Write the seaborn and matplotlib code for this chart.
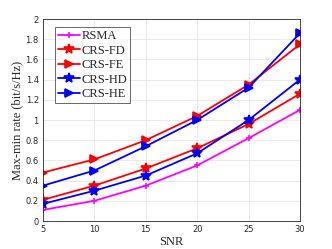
import numpy as np
import pandas as pd
import seaborn as sns
import matplotlib
matplotlib.use("Agg")
import matplotlib.pyplot as plt

snr = [5, 10, 15, 20, 25, 30]
rsma = [0.11, 0.20, 0.35, 0.55, 0.82, 1.10]
crs_fd = [0.21, 0.35, 0.52, 0.72, 0.96, 1.26]
crs_fe = [0.48, 0.61, 0.80, 1.04, 1.35, 1.75]
crs_hd = [0.17, 0.30, 0.45, 0.67, 1.00, 1.40]
crs_he = [0.35, 0.50, 0.74, 1.00, 1.32, 1.86]

series = ["RSMA", "CRS-FD", "CRS-FE", "CRS-HD", "CRS-HE"]
values = [rsma, crs_fd, crs_fe, crs_hd, crs_he]
colors = ["#ff00ff", "#ff0000", "#ff0000", "#0000ff", "#0000ff"]
markers = ["+", "*", ">", "*", ">"]
msizes = [5, 7, 6, 7, 6]

df = pd.DataFrame({
    "SNR": snr * len(series),
    "rate": sum(values, []),
    "scheme": [s for s in series for _ in snr],
})

sns.set_style("whitegrid")
plt.rcParams["font.family"] = ["DejaVu Sans"]

fig = plt.figure(figsize=(3.32, 2.49), dpi=100)
ax = fig.add_axes([43 / 332, 1 - 221 / 249, 257 / 332, 202 / 249])

for name, c, m, ms in zip(series, colors, markers, msizes):
    sub = df[df["scheme"] == name]
    sns.lineplot(data=sub, x="SNR", y="rate", ax=ax, color=c, marker=m,
                 markersize=ms, markeredgecolor=c, markeredgewidth=1.2,
                 linewidth=1.3, label=name)

ax.set_xlim(5, 30)
ax.set_ylim(0, 2)
ax.set_xticks([5, 10, 15, 20, 25, 30])
ax.set_yticks(np.arange(0, 2.01, 0.2))
ax.set_yticklabels(["0", "0.2", "0.4", "0.6", "0.8", "1", "1.2", "1.4", "1.6", "1.8", "2"])
ax.tick_params(labelsize=6, colors="#262626", direction="in", length=2, pad=3)
ax.grid(True, color="#e6e6e6", linewidth=0.6)
for sp in ax.spines.values():
    sp.set_color("#262626")
    sp.set_linewidth(0.6)
ax.set_facecolor("white")

ax.set_xlabel("SNR", family="Liberation Serif", fontsize=9, labelpad=1)
ax.set_ylabel("Max-min rate (bit/s/Hz)", family="Liberation Serif", fontsize=9, labelpad=2)

leg = ax.legend(loc="upper left", bbox_to_anchor=(0.045, 0.96),
                prop={"family": "Liberation Serif", "size": 9},
                frameon=True, fancybox=False, edgecolor="#262626",
                handlelength=1.8, handletextpad=0.1, borderpad=0.25,
                labelspacing=0.2, borderaxespad=0)
leg.get_frame().set_linewidth(0.6)

fig.savefig("out.png", dpi=100)
